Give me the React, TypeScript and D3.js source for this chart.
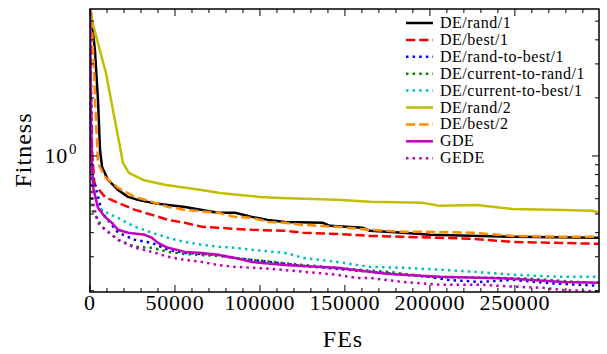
import * as d3 from "d3";

const W = 607;
const H = 354;
const margin = { top: 9, right: 8, bottom: 62, left: 90 };

// [FEs, fitness] pairs
const deRand1 = [
  [0, 6], [2900, 3.54], [4700, 1.95], [5900, 1.07], [7100, 0.877], [10600, 0.751],
  [16500, 0.667], [22400, 0.613], [28200, 0.592], [36500, 0.571], [45900, 0.557],
  [55900, 0.544], [65900, 0.525], [75300, 0.507], [85300, 0.507], [95300, 0.483],
  [104700, 0.466], [114700, 0.455], [137100, 0.45], [141200, 0.434], [160600, 0.424],
  [164700, 0.409], [184100, 0.4], [200000, 0.39], [248800, 0.381], [299400, 0.376],
];
const deBest1 = [
  [0, 6], [600, 1.95], [1200, 1.07], [2400, 0.751], [2900, 0.707], [8800, 0.613],
  [16500, 0.571], [26500, 0.525], [36500, 0.495], [45900, 0.466], [55900, 0.45],
  [65900, 0.429], [75300, 0.424], [95300, 0.414], [114700, 0.409], [125300, 0.4],
  [145300, 0.394], [164700, 0.385], [184100, 0.381], [205900, 0.376], [225300, 0.372],
  [248800, 0.358], [278200, 0.354], [299400, 0.35],
];
const deRandToBest1 = [
  [0, 6], [1200, 0.816], [7100, 0.507], [16500, 0.4], [26500, 0.367], [36500, 0.354],
  [45900, 0.326], [55900, 0.314], [75300, 0.307], [85300, 0.296], [95300, 0.289],
  [125300, 0.269], [164700, 0.251], [184100, 0.242], [200000, 0.236], [210000, 0.228],
  [229400, 0.222], [248800, 0.228], [267000, 0.22], [286500, 0.215], [299400, 0.212],
];
const deCurToRand1 = [
  [0, 6], [1200, 0.525], [7100, 0.429], [16500, 0.367], [26500, 0.338], [36500, 0.334],
  [45900, 0.318], [55900, 0.31], [75300, 0.303], [95300, 0.289], [125300, 0.272],
  [164700, 0.254], [174700, 0.251], [200000, 0.236], [238800, 0.233], [258200, 0.231],
  [286500, 0.222], [299400, 0.22],
];
const deCurToBest1 = [
  [0, 6], [600, 1.3], [1800, 0.7], [4700, 0.544], [8800, 0.513], [16500, 0.477],
  [26500, 0.429], [36500, 0.4], [45900, 0.376], [55900, 0.358], [65900, 0.346],
  [75300, 0.338], [85300, 0.334], [95300, 0.326], [114700, 0.314], [117600, 0.31],
  [125300, 0.296], [145300, 0.282], [164700, 0.266], [184100, 0.263], [205900, 0.257],
  [225300, 0.251], [248800, 0.242], [278200, 0.236], [299400, 0.236],
];
const deRand2 = [
  [0, 6], [1600, 4.89], [5300, 3.67], [9400, 2.69], [13500, 1.73], [17100, 1.18],
  [19400, 0.92], [22900, 0.817], [31200, 0.751], [44700, 0.707], [52900, 0.69],
  [64700, 0.667], [76500, 0.643], [88200, 0.628], [100000, 0.613], [111800, 0.606],
  [145300, 0.592], [164700, 0.578], [195900, 0.571], [205900, 0.551], [227600, 0.557],
  [248800, 0.531], [278200, 0.525], [295900, 0.519], [299400, 0.507],
];
const deBest2 = [
  [0, 6], [1200, 4.5], [2350, 2.79], [3500, 1.54], [4700, 0.92], [8800, 0.778],
  [16500, 0.683], [26500, 0.613], [36500, 0.578], [45900, 0.544], [55900, 0.525],
  [75300, 0.507], [85300, 0.483], [95300, 0.477], [104700, 0.455], [114700, 0.45],
  [125300, 0.439], [145300, 0.429], [164700, 0.414], [184100, 0.404], [200000, 0.404],
  [225300, 0.4], [248800, 0.385], [278200, 0.381], [299400, 0.381],
];
const gde = [
  [0, 6], [600, 1.5], [1200, 0.877], [1800, 0.69], [4700, 0.538], [8800, 0.483],
  [12900, 0.45], [16500, 0.414], [22400, 0.4], [32300, 0.39], [36500, 0.376],
  [40000, 0.354], [45900, 0.334], [55900, 0.318], [65900, 0.314], [75300, 0.307],
  [85300, 0.296], [95300, 0.282], [114700, 0.272], [125300, 0.269], [145300, 0.263],
  [164700, 0.251], [174700, 0.245], [184100, 0.242], [205900, 0.236], [248800, 0.231],
  [278200, 0.222], [299400, 0.22],
];
const gede = [
  [0, 6], [1200, 0.6], [4700, 0.45], [8800, 0.414], [12900, 0.39], [16500, 0.367],
  [26500, 0.334], [36500, 0.318], [45900, 0.3], [55900, 0.289], [65900, 0.282],
  [75300, 0.272], [85300, 0.266], [95300, 0.263], [105900, 0.26], [125300, 0.251],
  [145300, 0.242], [157000, 0.233], [164700, 0.233], [184100, 0.222], [205900, 0.215],
  [229400, 0.215], [248800, 0.21], [267000, 0.207], [278200, 0.202], [299400, 0.198],
];

const seriesNames = [
  "DE/rand/1", "DE/best/1", "DE/rand-to-best/1", "DE/current-to-rand/1",
  "DE/current-to-best/1", "DE/rand/2", "DE/best/2", "GDE", "GEDE",
];
const seriesData = [deRand1, deBest1, deRandToBest1, deCurToRand1, deCurToBest1, deRand2, deBest2, gde, gede];
const seriesColors = ["#000000", "#ff0000", "#0000ff", "#008000", "#00bfbf", "#bfbf00", "#ff8c00", "#bf00bf", "#bf00bf"];
const seriesDash = ["", "9.25 4", "2.5 4.1", "2.5 4.1", "2.5 4.1", "", "9.25 4", "", "2.5 4.1"];

const xTicks = [0, 50000, 100000, 150000, 200000, 250000];
const yMinor = [0.2, 0.3, 0.4, 0.5, 0.6, 0.7, 0.8, 0.9, 2, 3, 4, 5];

export default function App() {
  const x = d3.scaleLinear().domain([0, 299500]).range([margin.left, W - margin.right]);
  const y = d3.scaleLog().domain([0.197, 5.78]).range([H - margin.bottom, margin.top]);
  const line = d3
    .line<number[]>()
    .x((d) => x(d[0]))
    .y((d) => y(d[1]));

  const [x0, x1] = x.range();
  const [yb, yt] = y.range();
  const xMinor = d3.range(0, 299500, 10000).filter((v) => v % 50000 !== 0);
  const xMajor = d3.range(0, 299500, 50000);
  const font = '"Liberation Serif", "DejaVu Serif", serif';

  const legX = 406;
  const legY = 23;
  const legStep = 16.9;

  return (
    <svg
      width={W}
      height={H}
      style={{ position: "absolute", left: 0, top: 0, background: "#fff", fontFamily: font }}
    >
      <defs>
        <clipPath id="plot">
          <rect x={x0} y={yt} width={x1 - x0} height={yb - yt} />
        </clipPath>
      </defs>

      <g clipPath="url(#plot)">
        {seriesData.map((d, i) => (
          <path
            key={seriesNames[i]}
            d={line(d as number[][]) || ""}
            fill="none"
            stroke={seriesColors[i]}
            strokeWidth={2.5}
            strokeDasharray={seriesDash[i] || undefined}
            strokeLinejoin="round"
          />
        ))}
      </g>

      {/* ticks, inward on all four sides */}
      <g stroke="#000" strokeWidth={1}>
        {xMajor.map((v) => (
          <g key={"xM" + v}>
            <line x1={x(v)} x2={x(v)} y1={yb} y2={yb - 7} />
            <line x1={x(v)} x2={x(v)} y1={yt} y2={yt + 7} />
          </g>
        ))}
        {xMinor.map((v) => (
          <g key={"xm" + v}>
            <line x1={x(v)} x2={x(v)} y1={yb} y2={yb - 4} />
            <line x1={x(v)} x2={x(v)} y1={yt} y2={yt + 4} />
          </g>
        ))}
        <line x1={x0} x2={x0 + 7} y1={y(1)} y2={y(1)} />
        <line x1={x1} x2={x1 - 7} y1={y(1)} y2={y(1)} />
        {yMinor.map((v) => (
          <g key={"ym" + v}>
            <line x1={x0} x2={x0 + 4} y1={y(v)} y2={y(v)} />
            <line x1={x1} x2={x1 - 4} y1={y(v)} y2={y(v)} />
          </g>
        ))}
      </g>

      <rect x={x0} y={yt} width={x1 - x0} height={yb - yt} fill="none" stroke="#000" strokeWidth={1.5} />

      <g fontSize={22} letterSpacing={0.8} textAnchor="middle" fill="#000">
        {xTicks.map((v) => (
          <text key={"xl" + v} x={x(v)} y={310}>
            {v}
          </text>
        ))}
      </g>
      <text x={68} y={y(1) + 7.5} fontSize={22} letterSpacing={0.8} textAnchor="end">
        10
      </text>
      <text x={69} y={y(1) - 2} fontSize={15} textAnchor="start">
        0
      </text>

      <text x={343} y={347} fontSize={24} letterSpacing={1} textAnchor="middle">
        FEs
      </text>
      <text
        transform={`translate(31,150) rotate(-90)`}
        fontSize={24}
        letterSpacing={1}
        textAnchor="middle"
      >
        Fitness
      </text>

      <g>
        {seriesNames.map((name, i) => (
          <g key={"leg" + name} transform={`translate(0,${legY + i * legStep})`}>
            <line
              x1={legX}
              x2={legX + 27}
              y1={0}
              y2={0}
              stroke={seriesColors[i]}
              strokeWidth={2.5}
              strokeDasharray={seriesDash[i] || undefined}
            />
            <text x={440} y={5} fontSize={16} letterSpacing={0.5}>
              {name}
            </text>
          </g>
        ))}
      </g>
    </svg>
  );
}
